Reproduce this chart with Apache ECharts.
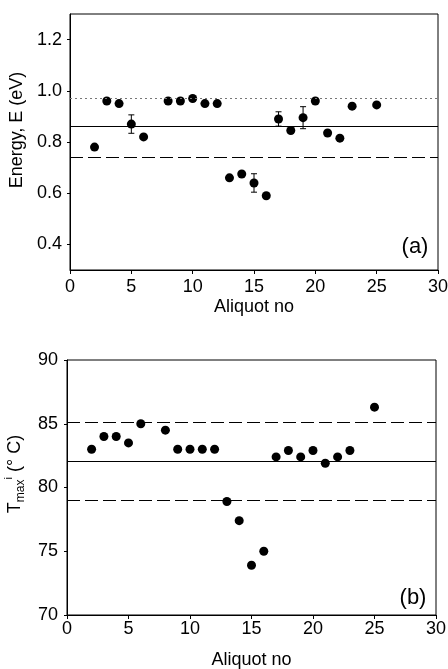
<!DOCTYPE html>
<html>
<head>
<meta charset="utf-8">
<script src="https://cdn.jsdelivr.net/npm/echarts@6/dist/echarts.min.js"></script>
<style>
html,body{margin:0;padding:0;background:#fff;}
#c{width:448px;height:669px;}
</style>
</head>
<body>
<div id="c"></div>
<script>
// ---- Data ----
const aliquotE = [2,3,4,5,6,8,9,10,11,12,13,14,15,16,17,18,19,20,21,22,23,25];
const energy   = [0.78,0.96,0.95,0.87,0.82,0.96,0.96,0.97,0.95,0.95,0.66,0.675,0.64,0.59,0.89,0.845,0.895,0.96,0.835,0.815,0.94,0.945];
const errAliquot = [5,15,17,19];
const errEnergy  = [0.87,0.64,0.89,0.895];
const errSize    = [0.036,0.036,0.028,0.043];
const energyLines = [0.975,0.857,0.738];   // dotted, solid, dashed
const energyTicks = [0.4,0.6,0.8,1.0,1.2];

const aliquotT = [2,3,4,5,6,8,9,10,11,12,13,14,15,16,17,18,19,20,21,22,23,25];
const tmax     = [83.0,84.0,84.0,83.5,85.0,84.5,83.0,83.0,83.0,83.0,78.9,77.4,73.9,75.0,82.4,82.9,82.4,82.9,81.9,82.4,82.9,86.3];
const tmaxLines = [85.1,82.07,78.98];      // dashed, solid, dashed

const panelLabels = ['(a)','(b)'];

// ---- Chart ----
const FONT = 'Liberation Sans, Arial, sans-serif';
const chart = echarts.init(document.getElementById('c'), null, {renderer:'canvas'});

function xAxisDef(gridIndex, labelMargin, nameGap){
  return {
    type:'value', gridIndex, min:0, max:30, interval:5,
    axisLine:{show:true, onZero:false, lineStyle:{color:'#000', width:1}},
    axisTick:{show:true, inside:false, length:4, lineStyle:{color:'#000'}},
    axisLabel:{color:'#000', fontSize:18, fontFamily:FONT, margin:labelMargin},
    splitLine:{show:false},
    name:'Aliquot no', nameLocation:'middle', nameGap,
    nameTextStyle:{color:'#000', fontSize:18, fontFamily:FONT}
  };
}

const errData = errAliquot.map((a,i)=>[a, errEnergy[i]-errSize[i], errEnergy[i]+errSize[i]]);

const option = {
  animation:false,
  backgroundColor:'#fff',
  grid:[
    {left:70, right:10, top:14, height:256, show:true, borderColor:'#000', borderWidth:1,
     containLabel:false, outerBoundsMode:'none'},
    {left:67, right:12, top:360, height:255, show:true, borderColor:'#000', borderWidth:1,
     containLabel:false, outerBoundsMode:'none'}
  ],
  xAxis:[ xAxisDef(0, 8, 28), xAxisDef(1, 5, 36) ],
  yAxis:[
    {
      type:'value', gridIndex:0, min:0.3, max:1.3,
      axisLine:{show:true, lineStyle:{color:'#000'}},
      axisTick:{show:true, length:3, customValues:energyTicks, lineStyle:{color:'#000'}},
      axisLabel:{color:'#000', fontSize:18, fontFamily:FONT, margin:8, customValues:energyTicks,
                 formatter:v=>v.toFixed(1)},
      splitLine:{show:false},
      name:'Energy, E (eV)', nameLocation:'middle', nameGap:43,
      nameTextStyle:{color:'#000', fontSize:18, fontFamily:FONT, padding:[0,0,0,24]}
    },
    {
      type:'value', gridIndex:1, min:70, max:90, interval:5,
      axisLine:{show:true, lineStyle:{color:'#000'}},
      axisTick:{show:true, length:3, lineStyle:{color:'#000'}},
      axisLabel:{color:'#000', fontSize:18, fontFamily:FONT, margin:9},
      splitLine:{show:false},
      name:'{t|T}{sub|max}{sup|i}{t| (° C)}', nameLocation:'middle', nameGap:40,
      nameTextStyle:{color:'#000', fontSize:18, fontFamily:FONT, padding:[0,0,0,27],
        rich:{
          t:{fontSize:18, fontFamily:FONT, color:'#000', lineHeight:24},
          sub:{fontSize:12, fontFamily:FONT, color:'#000', verticalAlign:'bottom', lineHeight:12},
          sup:{fontSize:11, fontFamily:FONT, color:'#000', verticalAlign:'top', lineHeight:11}
        }}
    }
  ],
  graphic:[
    {type:'text', x:415, y:247, style:{text:panelLabels[0], fontSize:22, fontFamily:FONT, fill:'#000', align:'center', verticalAlign:'middle'}},
    {type:'text', x:413, y:598, style:{text:panelLabels[1], fontSize:22, fontFamily:FONT, fill:'#000', align:'center', verticalAlign:'middle'}}
  ],
  series:[
    {
      type:'scatter', xAxisIndex:0, yAxisIndex:0, symbol:'circle', symbolSize:9,
      itemStyle:{color:'#000', opacity:1},
      data: aliquotE.map((a,i)=>[a, energy[i]]),
      markLine:{
        silent:true, symbol:['none','none'], label:{show:false},
        data:[
          {yAxis:energyLines[0], lineStyle:{type:[2,3], color:'#777', width:1}},
          {yAxis:energyLines[1], lineStyle:{type:'solid', color:'#000', width:1}},
          {yAxis:energyLines[2], lineStyle:{type:[13,5], color:'#000', width:1}}
        ]
      },
      z:3
    },
    {
      type:'custom', xAxisIndex:0, yAxisIndex:0,
      data: errData,
      renderItem:function(params, api){
        const x = api.value(0), lo = api.value(1), hi = api.value(2);
        const pHi = api.coord([x,hi]), pLo = api.coord([x,lo]);
        const w = 3;
        const st = {stroke:'#000', lineWidth:1};
        return {type:'group', children:[
          {type:'line', shape:{x1:pHi[0], y1:pHi[1], x2:pLo[0], y2:pLo[1]}, style:st},
          {type:'line', shape:{x1:pHi[0]-w, y1:pHi[1], x2:pHi[0]+w, y2:pHi[1]}, style:st},
          {type:'line', shape:{x1:pLo[0]-w, y1:pLo[1], x2:pLo[0]+w, y2:pLo[1]}, style:st}
        ]};
      },
      z:2
    },
    {
      type:'scatter', xAxisIndex:1, yAxisIndex:1, symbol:'circle', symbolSize:9,
      itemStyle:{color:'#000', opacity:1},
      data: aliquotT.map((a,i)=>[a, tmax[i]]),
      markLine:{
        silent:true, symbol:['none','none'], label:{show:false},
        data:[
          {yAxis:tmaxLines[0], lineStyle:{type:[13,5], color:'#000', width:1}},
          {yAxis:tmaxLines[1], lineStyle:{type:'solid', color:'#000', width:1}},
          {yAxis:tmaxLines[2], lineStyle:{type:[13,5], color:'#000', width:1}}
        ]
      },
      z:3
    }
  ]
};
chart.setOption(option);
</script>
</body>
</html>
